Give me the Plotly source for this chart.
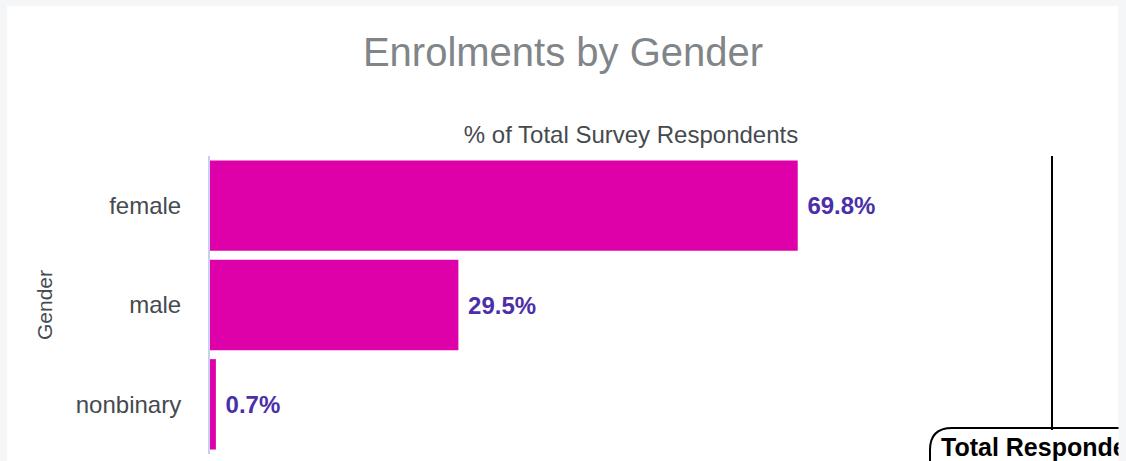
import plotly.graph_objects as go

# ---- data ----
categories = ["female", "male", "nonbinary"]
pct_values = [69.8, 29.5, 0.7]
chart_title = "Enrolments by Gender"
x_title = "% of Total Survey Respondents"
y_title = "Gender"
total_label = "Total Respondents"
x_max = 100

# ---- layout constants (pixels) ----
W, H = 1126, 461
L, R, T, B = 210, 74, 156, 7
PW, PH = W - L - R, H - T - B

def px_x(px):
    return (px - L) / PW

def px_y(py):
    return (H - B - py) / PH

FONT = "Liberation Sans, Arial, sans-serif"
BAR = "#DE00A8"
LBL = "#4B2FA8"
AX = "#454A4F"
PAGE = "#F5F6F8"

fig = go.Figure()
fig.add_trace(go.Bar(
    x=pct_values,
    y=categories,
    orientation="h",
    marker=dict(color=BAR, line=dict(width=0)),
    texttemplate="\u00a0%{x:.1f}%",
    textposition="outside",
    cliponaxis=False,
    textfont=dict(family=FONT, size=24, color=LBL, weight="bold"),
    hoverinfo="skip",
))

# white card
card = dict(type="rect", xref="paper", yref="paper",
            x0=px_x(7), x1=px_x(1118), y0=px_y(480), y1=px_y(6),
            fillcolor="white", line=dict(width=0), layer="below")

# rounded box around total annotation
bx0, by0, bx1, by1, rad = 930, 428, 1200, 490, 22
path = (f"M {px_x(bx0 + rad)} {px_y(by0)} L {px_x(bx1)} {px_y(by0)} "
        f"L {px_x(bx1)} {px_y(by1)} L {px_x(bx0 + rad)} {px_y(by1)} "
        f"Q {px_x(bx0)} {px_y(by1)} {px_x(bx0)} {px_y(by1 - rad)} "
        f"L {px_x(bx0)} {px_y(by0 + rad)} "
        f"Q {px_x(bx0)} {px_y(by0)} {px_x(bx0 + rad)} {px_y(by0)} Z")
box = dict(type="path", xref="paper", yref="paper", path=path,
           fillcolor="white", line=dict(color="black", width=2), layer="above")

fig.update_layout(
    width=W, height=H,
    margin=dict(l=L, r=R, t=T, b=B, autoexpand=False),
    paper_bgcolor=PAGE,
    plot_bgcolor="white",
    showlegend=False,
    bargap=0.09,
    title=dict(text=chart_title, x=0.5, xanchor="center",
               y=1 - 51.5 / H, yanchor="middle", yref="container",
               font=dict(family=FONT, size=40, color="#7F8588")),
    xaxis=dict(range=[0, x_max], side="top", showticklabels=False,
               showgrid=False, zeroline=False, showline=False, ticks="",
               title=dict(text=x_title, standoff=4,
                          font=dict(family=FONT, size=24, color=AX))),
    yaxis=dict(autorange="reversed", showgrid=False, zeroline=False,
               showline=True, linecolor="#C9CFF3", linewidth=2, ticks="",
               ticklabelstandoff=22,
               tickfont=dict(family=FONT, size=24, color=AX),
               title=dict(text=y_title, standoff=17,
                          font=dict(family=FONT, size=21, color=AX))),
    shapes=[card, box],
    annotations=[
        dict(x=x_max, y=1, xref="x", yref="paper", text=total_label,
             showarrow=True, arrowhead=0, arrowwidth=2, arrowcolor="black",
             ax=0, ay=291, axref="pixel", ayref="pixel",
             font=dict(family=FONT, size=25, color="black", weight="bold"),
             borderpad=3, borderwidth=0, xanchor="center"),
        dict(x=px_x(1118), y=px_y(415), xref="paper", yref="paper",
             text=" ", showarrow=False, xanchor="left", yanchor="top",
             width=20, height=60, bgcolor=PAGE, borderpad=0),
    ],
)

fig.write_html("out.html")
